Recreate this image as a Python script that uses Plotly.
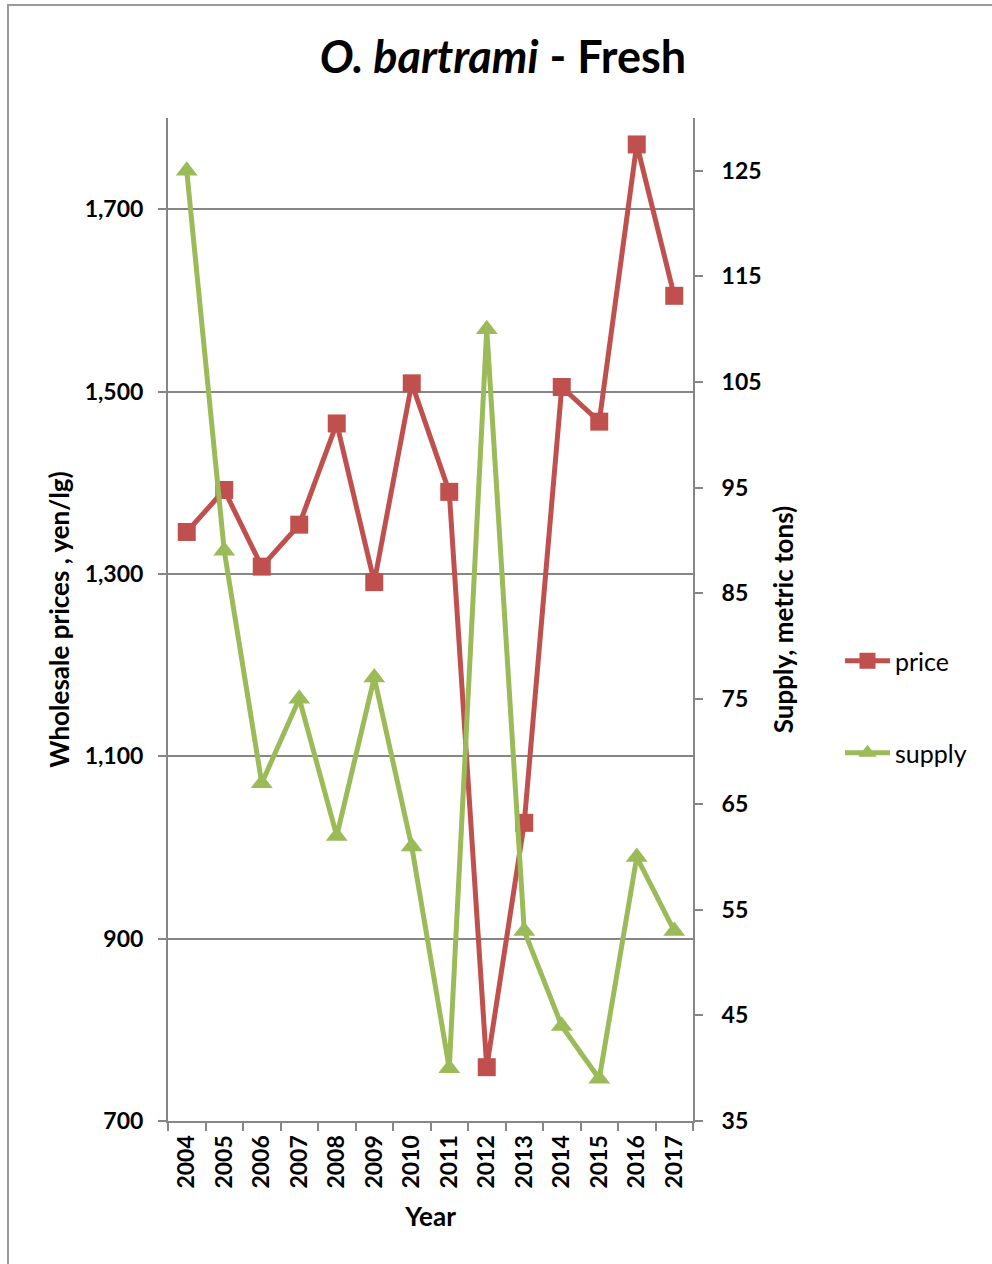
import plotly.graph_objects as go

years = ["2004", "2005", "2006", "2007", "2008", "2009", "2010",
         "2011", "2012", "2013", "2014", "2015", "2016", "2017"]
price = [1346, 1392, 1308, 1354, 1465, 1291, 1509,
         1390, 759, 1027, 1505, 1467, 1771, 1605]
supply = [125, 89, 67, 75, 62, 77, 61,
          40, 110, 53, 44, 39, 60, 53]

price_ticks = [700, 900, 1100, 1300, 1500, 1700]
supply_ticks = [35, 45, 55, 65, 75, 85, 95, 105, 115, 125]

RED = "#C0504D"
GREEN = "#9BBB59"
AXIS = "#868686"
FONT = "Lato"

fig = go.Figure()
fig.add_trace(go.Scatter(
    x=years, y=price, name="price", mode="lines+markers",
    line=dict(color=RED, width=5),
    marker=dict(symbol="square", size=18, color=RED),
    yaxis="y", legend="legend", showlegend=True,
))
fig.add_trace(go.Scatter(
    x=years, y=supply, name="supply", mode="lines+markers",
    line=dict(color=GREEN, width=5),
    marker=dict(symbol="triangle-up", size=19, color=GREEN),
    yaxis="y2", legend="legend2", showlegend=True,
))

tick_font = dict(family=FONT, size=23, color="black", weight="bold")
title_font = dict(family=FONT, size=26, color="black", weight="bold")
legend_font = dict(family=FONT, size=25, color="black")

fig.update_layout(
    width=992, height=1264,
    margin=dict(l=168, r=299, t=118, b=143),
    paper_bgcolor="white", plot_bgcolor="white",
    showlegend=True,
    title=dict(
        text="<b><i>O. bartrami</i> - Fresh</b>",
        x=(503 - 168) / 525, xref="paper", xanchor="center",
        y=1 - 57 / 1264, yanchor="middle",
        font=dict(family=FONT, size=45, color="black"),
    ),
    xaxis=dict(
        type="category", tickson="boundaries", range=[-0.5, 13.5],
        ticks="outside", ticklen=8, tickcolor=AXIS, tickwidth=2,
        showline=True, linecolor=AXIS, linewidth=2,
        showgrid=False, tickangle=-90, tickfont=tick_font, ticklabelstandoff=3,
        title=dict(text="Year", font=title_font, standoff=20),
    ),
    yaxis=dict(
        range=[700, 1800], tickvals=price_ticks, tickformat=",",
        ticks="outside", ticklen=8, tickcolor=AXIS, tickwidth=2,
        showline=True, linecolor=AXIS, linewidth=2,
        showgrid=True, gridcolor=AXIS, gridwidth=2,
        zeroline=False, tickfont=tick_font, ticklabelstandoff=10,
        title=dict(text="Wholesale prices , yen/lg)", font=title_font, standoff=8),
    ),
    yaxis2=dict(
        range=[35, 130], tickvals=supply_ticks, overlaying="y", side="right",
        ticks="outside", ticklen=8, tickcolor=AXIS, tickwidth=2,
        showline=True, linecolor=AXIS, linewidth=2,
        showgrid=False, zeroline=False, tickfont=tick_font, ticklabelstandoff=14,
        title=dict(text="Supply, metric tons)", font=title_font, standoff=14),
    ),
    legend=dict(
        x=(840 - 168) / 525, xanchor="left", y=(1121 - 661) / 1003, yanchor="middle",
        font=legend_font, bgcolor="rgba(0,0,0,0)", itemwidth=45,
    ),
    legend2=dict(
        x=(840 - 168) / 525, xanchor="left", y=(1121 - 753) / 1003, yanchor="middle",
        font=legend_font, bgcolor="rgba(0,0,0,0)", itemwidth=45,
    ),
    shapes=[dict(
        type="rect", xref="paper", yref="paper",
        x0=(8 - 168) / 525, x1=2, y0=-0.3, y1=(1121 - 5) / 1003,
        line=dict(color="#9a9a9a", width=2), fillcolor="rgba(0,0,0,0)", layer="below",
    )],
)

fig.write_html("out.html")
